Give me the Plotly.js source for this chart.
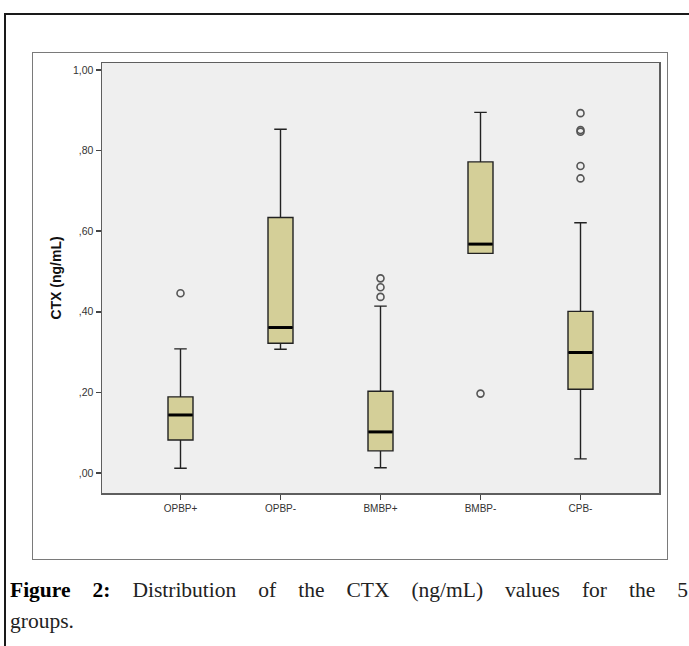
<!DOCTYPE html>
<html>
<head>
<meta charset="utf-8">
<script src="https://cdn.plot.ly/plotly-3.0.1.min.js"></script>
<style>
  html, body { margin: 0; padding: 0; width: 689px; height: 646px; background: #ffffff; overflow: hidden; }
  #outer { position: absolute; left: 4px; top: 13px; width: 700px; height: 700px; border-left: 2px solid #1a1a1a; border-top: 2px solid #1a1a1a; }
  #inner { position: absolute; left: 32px; top: 52px; width: 634px; height: 506px; border: 1.5px solid #7a7a7a; }
  #chart { position: absolute; left: 0; top: 0; width: 689px; height: 646px; }
  .cap { position: absolute; left: 10px; width: 678px; font-family: "Liberation Serif", "DejaVu Serif", serif; font-size: 21.5px; line-height: 31px; color: #222; white-space: nowrap; }
  #cap1 { top: 575px; text-align: justify; text-align-last: justify; white-space: normal; }
  #cap2 { top: 606px; }
  b { color: #000; }
</style>
</head>
<body>
<div id="outer"></div>
<div id="inner"></div>
<div id="chart"></div>
<div class="cap" id="cap1"><b>Figure 2:</b> Distribution of the CTX (ng/mL) values for the 5</div>
<div class="cap" id="cap2">groups.</div>
<script>
// Data
const categories = ["OPBP+", "OPBP-", "BMBP+", "BMBP-", "CPB-"];
const lowerWhisker = [0.012, 0.307, 0.013, 0.545, 0.035];
const q1Values     = [0.082, 0.322, 0.055, 0.545, 0.208];
const medianValues = [0.144, 0.361, 0.102, 0.568, 0.299];
const q3Values     = [0.189, 0.634, 0.203, 0.772, 0.401];
const upperWhisker = [0.308, 0.853, 0.414, 0.895, 0.621];
const outlierGroup = [0, 2, 2, 2, 3, 4, 4, 4, 4, 4];
const outlierValue = [0.446, 0.483, 0.461, 0.437, 0.197, 0.893, 0.851, 0.847, 0.762, 0.731];
const yTickValues = [0, 0.2, 0.4, 0.6, 0.8, 1.0];
const yTickLabels = [",00", ",20", ",40", ",60", ",80", "1,00"];

const positions = categories.map((c, i) => i);
const boxWidth = 0.25;

const boxTrace = {
  type: "box",
  x: positions,
  q1: q1Values,
  median: medianValues,
  q3: q3Values,
  lowerfence: lowerWhisker,
  upperfence: upperWhisker,
  width: boxWidth,
  whiskerwidth: 0.5,
  fillcolor: "#d4cf98",
  line: { color: "#222222", width: 1.4 },
  boxpoints: false,
  hoverinfo: "skip",
  showlegend: false
};

const medX = [], medY = [];
medianValues.forEach((m, i) => {
  medX.push(i - boxWidth / 2 + 0.005, i + boxWidth / 2 - 0.005, null);
  medY.push(m, m, null);
});
const medianTrace = {
  type: "scatter", mode: "lines", x: medX, y: medY,
  line: { color: "#000000", width: 3 }, hoverinfo: "skip", showlegend: false
};

const outlierTrace = {
  type: "scatter", mode: "markers",
  x: outlierGroup, y: outlierValue,
  marker: { symbol: "circle-open", size: 7, color: "#555555", line: { width: 1.6, color: "#555555" } },
  hoverinfo: "skip", showlegend: false
};

const layout = {
  width: 689, height: 646,
  margin: { l: 102, r: 30, t: 63, b: 153 },
  paper_bgcolor: "rgba(0,0,0,0)",
  plot_bgcolor: "#efefef",
  showlegend: false,
  font: { family: "Liberation Sans, Arial, sans-serif", color: "#333333", size: 10 },
  xaxis: {
    range: [-0.785, 4.785],
    tickvals: positions, ticktext: categories,
    showgrid: false, zeroline: false,
    showline: true, mirror: true, linecolor: "#5e5e5e", linewidth: 1.5,
    ticks: "outside", ticklen: 5, tickcolor: "#444444", tickwidth: 1.5,
    tickfont: { size: 10, color: "#333333" }
  },
  yaxis: {
    range: [-0.0496, 1.0174],
    tickvals: yTickValues, ticktext: yTickLabels,
    showgrid: false, zeroline: false,
    showline: true, mirror: true, linecolor: "#5e5e5e", linewidth: 1.5,
    ticks: "outside", ticklen: 5, tickcolor: "#444444", tickwidth: 1.5,
    tickfont: { size: 10.5, color: "#333333" },
    title: { text: "<b>CTX (ng/mL)</b>", font: { size: 14, color: "#111111" }, standoff: 8 }
  }
};

Plotly.newPlot("chart", [boxTrace, medianTrace, outlierTrace], layout, { displayModeBar: false, staticPlot: true });
</script>
</body>
</html>
